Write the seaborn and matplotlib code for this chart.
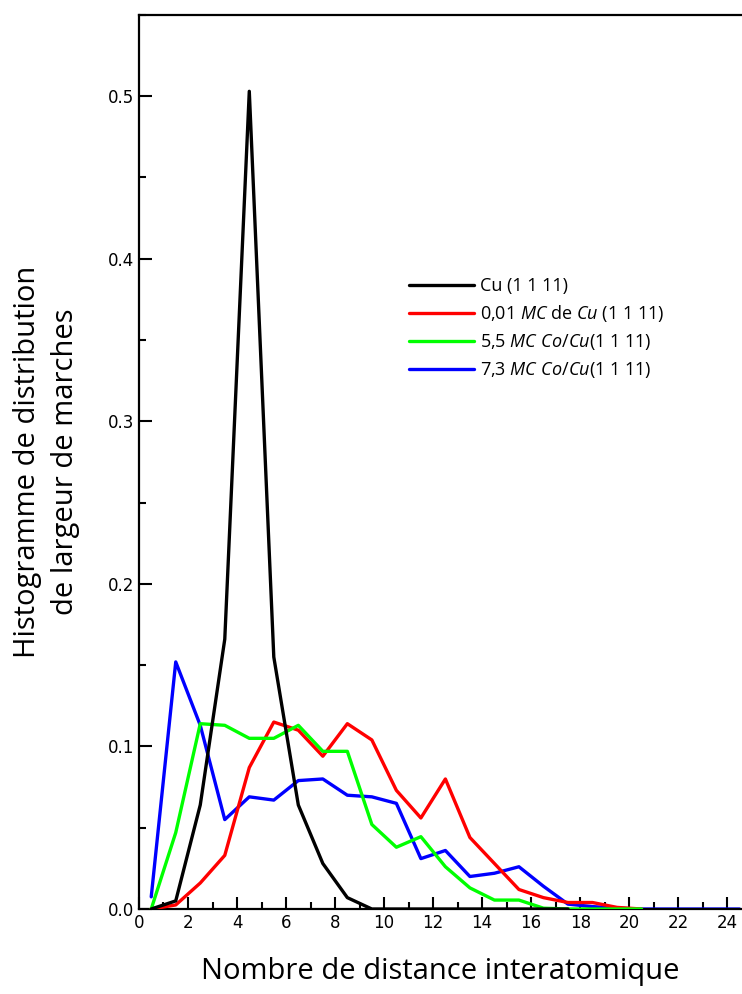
import matplotlib
matplotlib.use("Agg")
import matplotlib.pyplot as plt
from matplotlib.ticker import MultipleLocator, FormatStrFormatter
import pandas as pd
import seaborn as sns

# step width bins (centres at half-integers)
x_cu = [0.5, 1.5, 2.5, 3.5, 4.5, 5.5, 6.5, 7.5, 8.5, 9.5, 10.5, 11.5,
        12.5, 13.5, 14.5, 15.5, 16.5, 17.5]
y_cu = [0.0, 0.005, 0.064, 0.166, 0.503, 0.155, 0.064, 0.028, 0.007, 0.0,
        0.0, 0.0, 0.0, 0.0, 0.0, 0.0, 0.0, 0.0]

x_001 = [0.5, 1.5, 2.5, 3.5, 4.5, 5.5, 6.5, 7.5, 8.5, 9.5, 10.5, 11.5,
         12.5, 13.5, 14.5, 15.5, 16.5, 17.5, 18.5, 19.5, 20.5]
y_001 = [0.0, 0.0025, 0.016, 0.033, 0.087, 0.115, 0.110, 0.094, 0.114, 0.104,
         0.073, 0.056, 0.080, 0.044, 0.028, 0.012, 0.007, 0.004, 0.004, 0.001, 0.0]

x_55 = [0.5, 1.5, 2.5, 3.5, 4.5, 5.5, 6.5, 7.5, 8.5, 9.5, 10.5, 11.5,
        12.5, 13.5, 14.5, 15.5, 16.5, 17.5, 18.5, 19.5, 20.5]
y_55 = [0.0, 0.047, 0.114, 0.113, 0.105, 0.105, 0.113, 0.097, 0.097, 0.052,
        0.038, 0.0445, 0.026, 0.013, 0.0055, 0.0055, 0.0005, 0.0, 0.0, 0.0, 0.0]

x_73 = [0.5, 1.5, 2.5, 3.5, 4.5, 5.5, 6.5, 7.5, 8.5, 9.5, 10.5, 11.5,
        12.5, 13.5, 14.5, 15.5, 16.5, 17.5, 18.5, 19.5, 20.5, 21.5, 22.5,
        23.5, 24.5]
y_73 = [0.0075, 0.152, 0.113, 0.055, 0.069, 0.067, 0.079, 0.080, 0.070, 0.069,
        0.065, 0.031, 0.036, 0.020, 0.022, 0.026, 0.014, 0.003, 0.0015, 0.0005,
        0.0, 0.0, 0.0, 0.0, 0.0]

labels = ["Cu (1 1 11)",
          r"0,01 $\mathit{MC}$ de $\mathit{Cu}$ (1 1 11)",
          r"5,5 $\mathit{MC\ Co/Cu}$(1 1 11)",
          r"7,3 $\mathit{MC\ Co/Cu}$(1 1 11)"]
colors = ["#000000", "#ff0000", "#00ff00", "#0000ff"]
x_ticks = list(range(0, 25, 2))
y_ticks = [0.0, 0.1, 0.2, 0.3, 0.4, 0.5]

sns.set_style("ticks")
plt.rcParams["font.family"] = ["Open Sans", "DejaVu Sans"]
plt.rcParams["mathtext.fontset"] = "custom"
plt.rcParams["mathtext.it"] = "Open Sans:italic"
plt.rcParams["mathtext.rm"] = "Open Sans"
for key in ["text.color", "axes.labelcolor", "xtick.color", "ytick.color",
            "axes.edgecolor"]:
    plt.rcParams[key] = "black"

fig = plt.figure(figsize=(7.42, 9.94), dpi=100)
ax = fig.add_axes([0.1873, 0.0855, 0.8127, 0.8995])

series = [(x_cu, y_cu), (x_001, y_001), (x_55, y_55), (x_73, y_73)]
zorders = [5, 3, 4, 2]
for (xs, ys), lab, col, z in zip(series, labels, colors, zorders):
    df = pd.DataFrame({"x": xs, "y": ys})
    sns.lineplot(data=df, x="x", y="y", ax=ax, color=col, lw=2.4,
                 label=lab, zorder=z)

ax.set_xlim(0, 24.6)
ax.set_ylim(0, 0.55)
ax.set_xticks(x_ticks)
ax.set_yticks(y_ticks)
ax.xaxis.set_minor_locator(MultipleLocator(1))
ax.yaxis.set_minor_locator(MultipleLocator(0.05))
ax.yaxis.set_major_formatter(FormatStrFormatter("%.1f"))
ax.tick_params(which="major", direction="in", length=9, width=1.5,
               labelsize=12, top=False, right=False)
ax.tick_params(which="minor", direction="in", length=5, width=1.5,
               top=False, right=False)
for lbl in ax.get_xticklabels() + ax.get_yticklabels():
    lbl.set_family("DejaVu Sans")

for side in ["left", "bottom", "top"]:
    ax.spines[side].set_linewidth(1.6)
ax.spines["right"].set_visible(False)

ax.set_xlabel("Nombre de distance interatomique", fontsize=21, labelpad=18)
ax.set_ylabel("Histogramme de distribution\nde largeur de marches",
              fontsize=21, labelpad=20, linespacing=1.4)

ax.legend(loc="upper left", bbox_to_anchor=(0.435, 0.715), frameon=False,
          fontsize=13, handlelength=3.6, handletextpad=0.35, labelspacing=0.45,
          borderaxespad=0)

fig.savefig("out.png", dpi=100)
